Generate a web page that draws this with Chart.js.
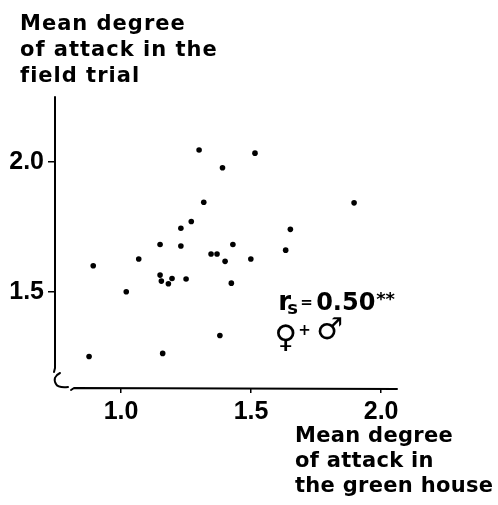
<!DOCTYPE html>
<html>
<head>
<meta charset="utf-8">
<script src="https://cdn.jsdelivr.net/npm/chart.js@4/dist/chart.umd.min.js"></script>
<style>
  html, body { margin: 0; padding: 0; background: #fff; }
  #wrap { width: 498px; height: 505px; position: relative; }
</style>
</head>
<body>
<div id="wrap"><canvas id="c" width="498" height="505"></canvas></div>
<script>
// Mean degree of attack: green house (x) vs field trial (y)
const greenHouse = [1.30, 1.515, 1.39, 1.318, 1.27, 1.23, 1.15, 1.23, 1.43, 1.346, 1.369, 1.40, 1.499, 1.068,
                    0.893, 1.15, 1.155, 1.182, 1.196, 1.25, 1.424, 1.02, 1.38, 1.16, 0.877, 1.896, 1.651, 1.633];
const fieldTrial = [2.045, 2.033, 1.977, 1.844, 1.77, 1.744, 1.682, 1.676, 1.682, 1.645, 1.645, 1.617, 1.626, 1.626,
                    1.60, 1.564, 1.541, 1.531, 1.551, 1.549, 1.533, 1.50, 1.332, 1.263, 1.251, 1.842, 1.74, 1.66];
const xTicks = [1.0, 1.5, 2.0];
const yTicks = [1.5, 2.0];
const yTitle = ['Mean degree', 'of attack in the', 'field trial'];
const xTitle = ['Mean degree', 'of attack in', 'the green house'];

const points = greenHouse.map((x, i) => ({ x: x, y: fieldTrial[i] }));

const decor = {
  id: 'decor',
  afterDraw(chart) {
    const ctx = chart.ctx;
    const a = chart.chartArea;
    const xs = chart.scales.x, ys = chart.scales.y;
    ctx.save();
    ctx.strokeStyle = '#000';
    ctx.lineWidth = 2;
    ctx.lineCap = 'round';
    ctx.lineJoin = 'round';
    // y axis
    ctx.beginPath();
    ctx.moveTo(a.left, a.top);
    ctx.lineTo(a.left, a.bottom - 21);
    ctx.lineTo(a.left - 1, a.bottom - 17);
    ctx.stroke();
    // break symbol
    ctx.beginPath();
    ctx.moveTo(a.left + 5, a.bottom - 16);
    ctx.quadraticCurveTo(a.left - 3, a.bottom - 12, a.left + 1, a.bottom - 5);
    ctx.quadraticCurveTo(a.left + 3, a.bottom - 1, a.left + 13, a.bottom - 2);
    ctx.stroke();
    // x axis
    ctx.beginPath();
    ctx.moveTo(a.left + 16, a.bottom + 1);
    ctx.lineTo(a.left + 19, a.bottom - 1);
    ctx.lineTo(a.right, a.bottom);
    ctx.stroke();

    // axis titles
    ctx.fillStyle = '#000';
    ctx.font = 'bold 21px "DejaVu Sans"';
    ctx.textAlign = 'left';
    ctx.textBaseline = 'alphabetic';
    ctx.letterSpacing = '1px';
    yTitle.forEach((t, i) => ctx.fillText(t, 20, 30 + i * 26));
    ctx.letterSpacing = '0.3px';
    xTitle.forEach((t, i) => ctx.fillText(t, 295, 442 + i * 25));

    // annotation
    const ax = xs.getPixelForValue(1.604);
    const ay = ys.getPixelForValue(1.43);
    ctx.letterSpacing = '0px';
    ctx.font = 'bold 26px "DejaVu Sans"';
    ctx.fillText('r', ax, ay);
    ctx.font = 'bold 18px "DejaVu Sans"';
    ctx.fillText('s', ax + 9, ay + 4);
    ctx.font = 'bold 15px "DejaVu Sans"';
    ctx.fillText('=', ax + 22, ay - 3);
    ctx.font = 'bold 24px "DejaVu Sans"';
    ctx.fillText('0.50', ax + 38, ay);
    ctx.font = 'bold 18px "DejaVu Sans"';
    ctx.fillText('**', ax + 98, ay - 5);
    ctx.font = 'bold 31px "DejaVu Sans"';
    ctx.fillText('\u2640', ax - 4, ay + 37);
    ctx.font = 'bold 15px "DejaVu Sans"';
    ctx.fillText('+', ax + 20, ay + 25);
    ctx.font = 'bold 30px "DejaVu Sans"';
    ctx.fillText('\u2642', ax + 38, ay + 29);
    ctx.restore();
  }
};

new Chart(document.getElementById('c'), {
  type: 'scatter',
  data: {
    datasets: [{
      data: points,
      backgroundColor: '#000',
      borderWidth: 0,
      pointRadius: 2.8,
      pointHoverRadius: 2.8
    }]
  },
  options: {
    responsive: false,
    animation: false,
    events: [],
    layout: { padding: { top: 97, right: 101, left: 0, bottom: 0 } },
    plugins: { legend: { display: false }, tooltip: { enabled: false }, title: { display: false } },
    scales: {
      x: {
        type: 'linear',
        min: 0.746,
        max: 2.061,
        afterBuildTicks: s => { s.ticks = xTicks.map(v => ({ value: v })); },
        afterFit: s => { s.height = 116; },
        border: { display: false },
        grid: { display: true, drawOnChartArea: false, drawTicks: true, tickLength: 4, color: '#000', lineWidth: 1.5 },
        ticks: {
          color: '#000',
          padding: 4,
          font: { family: '"Liberation Sans"', size: 25, weight: 'bold' },
          callback: v => Number(v).toFixed(1),
          maxRotation: 0
        }
      },
      y: {
        type: 'linear',
        min: 1.126,
        max: 2.249,
        afterBuildTicks: s => { s.ticks = yTicks.map(v => ({ value: v })); },
        afterFit: s => { s.width = 55; },
        border: { display: false },
        grid: { display: true, drawOnChartArea: false, drawTicks: true, tickLength: 7, color: '#000', lineWidth: 1.5 },
        ticks: {
          color: '#000',
          padding: 4,
          font: { family: '"Liberation Sans"', size: 25, weight: 'bold' },
          callback: v => Number(v).toFixed(1)
        }
      }
    }
  },
  plugins: [decor]
});
</script>
</body>
</html>
